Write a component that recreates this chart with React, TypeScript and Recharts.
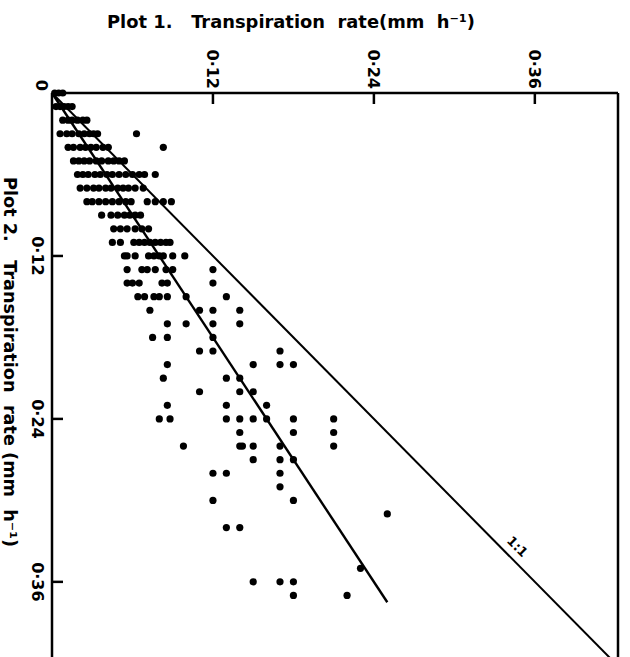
// App.tsx
// Transpiration rate, plot 1 vs plot 2, drawn rotated like the printed figure.
import { ScatterChart, Scatter, XAxis, YAxis, ReferenceLine, ReferenceDot } from "recharts";

const FONT = "'DejaVu Sans', Verdana, sans-serif";
const INK = "#000";
const PLOT_LEFT = 52;
const PLOT_TOP = 93;

// Plot 2 rate levels (mm h-1), read in 0.01 steps
const plot2Levels = [
  0, 0.01, 0.02, 0.03, 0.04, 0.05, 0.06, 0.07, 0.08, 0.09, 0.1, 0.11, 0.12, 0.13,
  0.14, 0.15, 0.16, 0.17, 0.18, 0.19, 0.2, 0.21, 0.22, 0.23, 0.24, 0.25, 0.26,
  0.27, 0.28, 0.29, 0.3, 0.31, 0.32, 0.35, 0.36, 0.37,
];

// Plot 1 rates (mm h-1) measured at each plot 2 level above
const plot1AtLevel = [
  [0.002, 0.005, 0.008],
  [0.003, 0.006, 0.009, 0.012, 0.015],
  [0.008, 0.012, 0.015, 0.019, 0.023, 0.026],
  [0.006, 0.011, 0.015, 0.02, 0.024, 0.028, 0.031, 0.034, 0.063],
  [0.012, 0.016, 0.021, 0.025, 0.029, 0.033, 0.038, 0.042, 0.083],
  [0.016, 0.02, 0.024, 0.028, 0.033, 0.037, 0.042, 0.046, 0.05, 0.054],
  [0.019, 0.023, 0.027, 0.032, 0.036, 0.041, 0.045, 0.05, 0.055, 0.06, 0.065, 0.069, 0.077],
  [0.021, 0.026, 0.031, 0.035, 0.04, 0.044, 0.049, 0.053, 0.057, 0.062, 0.068],
  [0.026, 0.03, 0.035, 0.04, 0.045, 0.05, 0.055, 0.059, 0.071, 0.077, 0.083, 0.089],
  [0.037, 0.044, 0.049, 0.054, 0.058, 0.062, 0.066],
  [0.046, 0.051, 0.056, 0.062, 0.067, 0.072],
  [0.045, 0.051, 0.061, 0.065, 0.069, 0.073, 0.077, 0.081, 0.085, 0.088],
  [0.054, 0.056, 0.062, 0.072, 0.076, 0.08, 0.083, 0.09, 0.099],
  [0.056, 0.067, 0.071, 0.077, 0.085, 0.09, 0.12],
  [0.056, 0.06, 0.065, 0.082, 0.086, 0.12],
  [0.064, 0.069, 0.076, 0.08, 0.086, 0.1, 0.13],
  [0.073, 0.11, 0.12, 0.14],
  [0.086, 0.1, 0.12, 0.14],
  [0.075, 0.086, 0.12],
  [0.11, 0.12, 0.17],
  [0.086, 0.15, 0.17, 0.18],
  [0.083, 0.13, 0.14],
  [0.11, 0.14, 0.15],
  [0.086, 0.13, 0.16],
  [0.08, 0.088, 0.13, 0.14, 0.15, 0.16, 0.18, 0.21],
  [0.14, 0.18, 0.21],
  [0.098, 0.14, 0.142, 0.15, 0.17, 0.21],
  [0.15, 0.17, 0.18],
  [0.12, 0.13, 0.17],
  [0.17],
  [0.12, 0.18],
  [0.25],
  [0.13, 0.14],
  [0.23],
  [0.15, 0.17, 0.18],
  [0.18, 0.22],
];

const xTicks = [0, 0.12, 0.24, 0.36];
const yTicks = [0.12, 0.24, 0.36];
const oneToOne = [{ x: 0, y: 0 }, { x: 0.42, y: 0.42 }];
const fitLine = [{ x: 0, y: 0 }, { x: 0.25, y: 0.375 }];
const oneToOneLabelAt = { x: 0.347, y: 0.334 };

const points = plot2Levels.flatMap((y, i) => plot1AtLevel[i].map((x) => ({ x, y })));

const fmt = (v: number) => (v === 0 ? "0" : v.toFixed(2).replace(".", "\u00b7"));

function TopTick({ x, payload }: any) {
  const v = payload.value;
  const isZero = v === 0;
  return (
    <g>
      {!isZero && (
        <line x1={x} x2={x} y1={PLOT_TOP} y2={PLOT_TOP + 11} stroke={INK} strokeWidth={2.5} />
      )}
      <text
        transform={`translate(${isZero ? x - 11 : x},${PLOT_TOP - (isZero ? 2 : 4)}) rotate(90)`}
        textAnchor="end"
        dominantBaseline="central"
        fontFamily={FONT}
        fontWeight="bold"
        fontSize={16}
        fill={INK}
      >
        {fmt(v)}
      </text>
    </g>
  );
}

function LeftTick({ y, payload }: any) {
  return (
    <g>
      <line x1={PLOT_LEFT} x2={PLOT_LEFT + 11} y1={y} y2={y} stroke={INK} strokeWidth={2.5} />
      <text
        transform={`translate(${PLOT_LEFT - 14.5},${y}) rotate(90)`}
        textAnchor="middle"
        dominantBaseline="central"
        fontFamily={FONT}
        fontWeight="bold"
        fontSize={16}
        fill={INK}
      >
        {fmt(payload.value)}
      </text>
    </g>
  );
}

const Dot = (p: any) => <circle cx={p.cx} cy={p.cy} r={3.6} fill={INK} />;

const OneToOneLabel = (p: any) => (
  <text
    transform={`translate(${p.cx},${p.cy}) rotate(45)`}
    textAnchor="middle"
    dominantBaseline="central"
    fontFamily={FONT}
    fontWeight="bold"
    fontSize={13}
    fill={INK}
  >
    1:1
  </text>
);

export default function App() {
  return (
    <div
      style={{
        position: "absolute", left: 0, top: 0, width: 630, height: 657,
        overflow: "hidden", background: "#fff",
      }}
    >
      <ScatterChart
        width={630}
        height={700}
        margin={{ top: 33, right: 12, bottom: 9.5, left: 12 }}
      >
        <XAxis
          type="number"
          dataKey="x"
          orientation="top"
          domain={[0, 0.422]}
          ticks={xTicks}
          height={60}
          axisLine={false}
          tickLine={false}
          tick={TopTick}
        />
        <YAxis
          type="number"
          dataKey="y"
          reversed
          domain={[0, 0.44]}
          ticks={yTicks}
          width={40}
          axisLine={false}
          tickLine={false}
          tick={LeftTick}
        />
        <ReferenceLine y={0} stroke={INK} strokeWidth={2.5} />
        <ReferenceLine x={0} stroke={INK} strokeWidth={2.5} />
        <ReferenceLine x={0.422} stroke={INK} strokeWidth={2.5} />
        <ReferenceLine segment={oneToOne} stroke={INK} strokeWidth={2} ifOverflow="visible" />
        <ReferenceLine segment={fitLine} stroke={INK} strokeWidth={2.4} ifOverflow="visible" />
        <ReferenceDot x={oneToOneLabelAt.x} y={oneToOneLabelAt.y} r={0} shape={OneToOneLabel} />
        <Scatter data={points} shape={Dot} isAnimationActive={false} />
      </ScatterChart>
      <svg
        width={630}
        height={657}
        style={{ position: "absolute", left: 0, top: 0, pointerEvents: "none" }}
      >
        <text
          x={291}
          y={28}
          textAnchor="middle"
          textLength={368}
          lengthAdjust="spacingAndGlyphs"
          fontFamily={FONT}
          fontWeight="bold"
          fontSize={18}
          fill={INK}
          style={{ whiteSpace: "pre" }}
        >
          {"Plot 1.   Transpiration  rate(mm  h\u207b\u00b9)"}
        </text>
        <text
          transform="translate(4,362) rotate(90)"
          textAnchor="middle"
          textLength={370}
          lengthAdjust="spacingAndGlyphs"
          fontFamily={FONT}
          fontWeight="bold"
          fontSize={17}
          fill={INK}
          style={{ whiteSpace: "pre" }}
        >
          {"Plot 2.   Transpiration  rate (mm  h\u207b\u00b9)"}
        </text>
      </svg>
    </div>
  );
}
